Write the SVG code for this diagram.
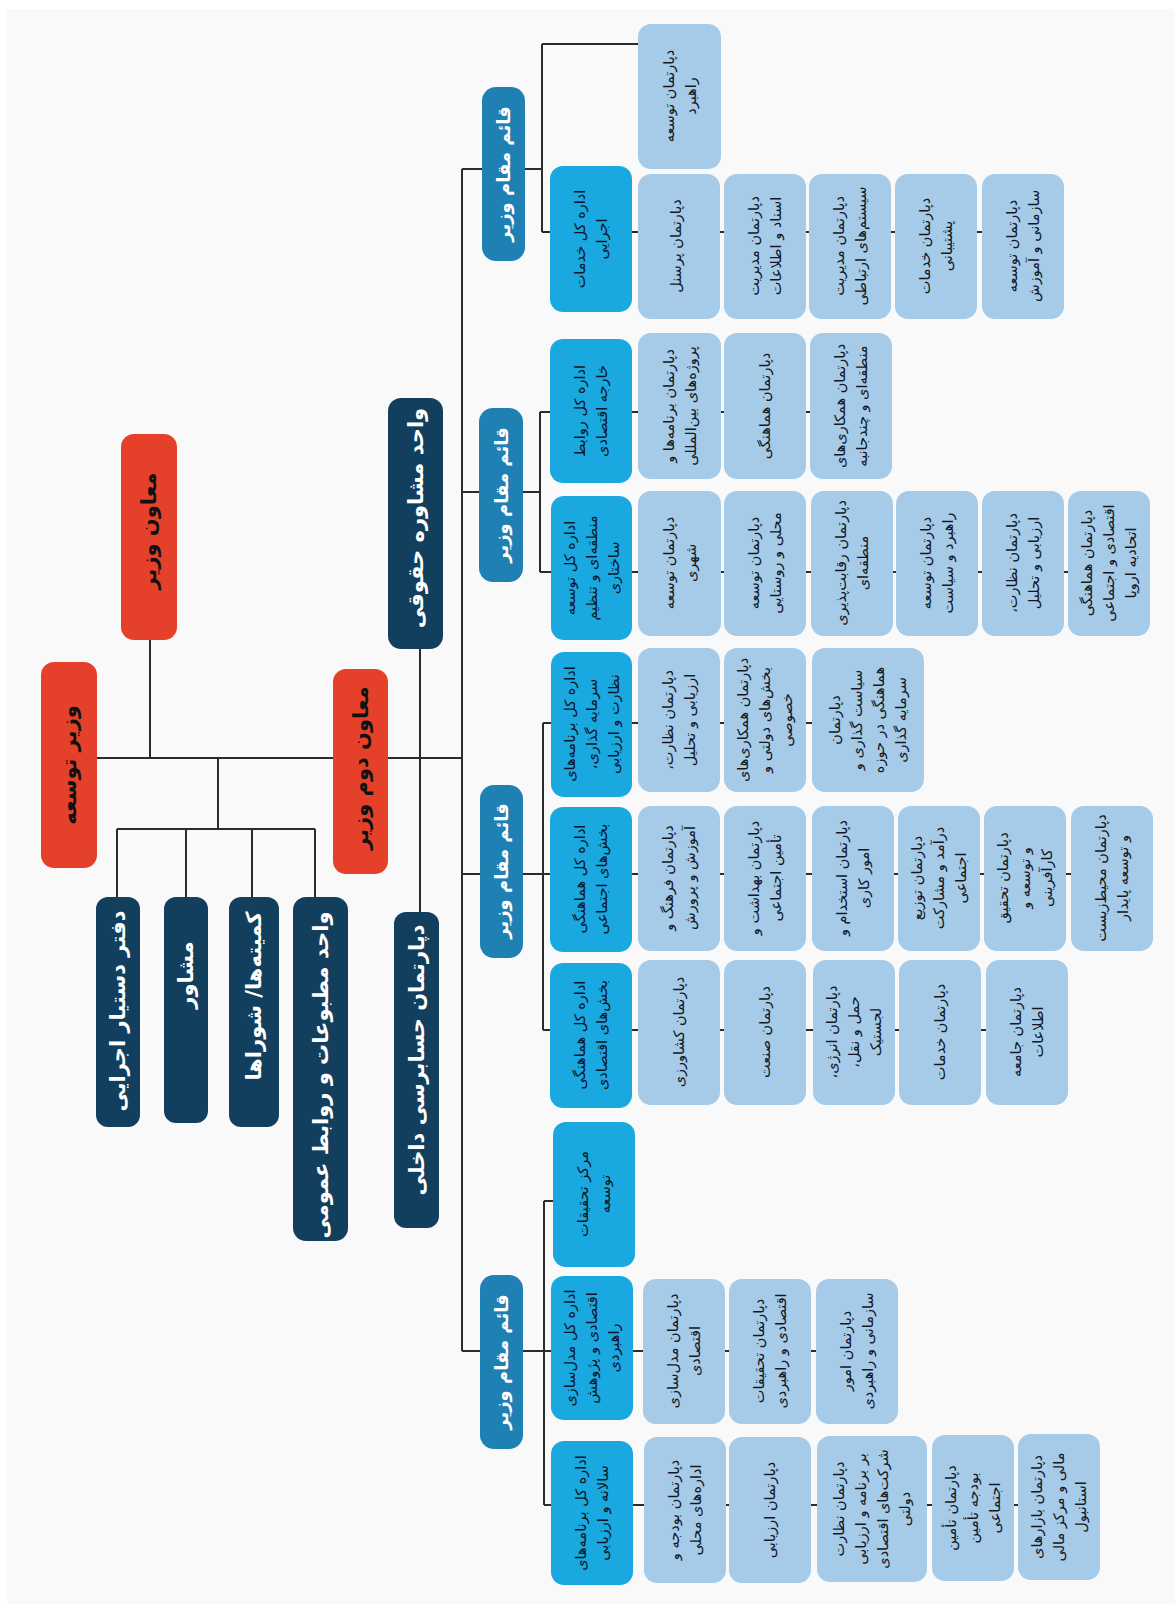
<svg xmlns="http://www.w3.org/2000/svg" width="1175" height="1604" viewBox="0 0 1175 1604">
<style>
text{font-family:"DejaVu Sans","Noto Sans",sans-serif;direction:rtl;unicode-bidi:embed;text-anchor:middle;dominant-baseline:central}
.red{fill:#e5412a}.dark{fill:#133f5e}.qm{fill:#1f80b3}.br{fill:#19a8e0}.lt{fill:#a5cbe9}
.tr{font-size:21px;font-weight:bold;fill:#111}
.td{font-size:21px;font-weight:bold;fill:#fff}
.tq{font-size:18px;font-weight:bold;fill:#fff}
.tb{font-size:14.5px;fill:#0b1626}
.tl{font-size:14.5px;fill:#141824}
.ln{stroke:#2b2b2b;stroke-width:2;fill:none}
</style>
<rect width="1175" height="1604" fill="#ffffff"/>
<rect x="7" y="9" width="1168" height="1595" fill="#f9f9f9"/>
<g id="connectors" class="ln">
<path d="M97 758H462"/>
<path d="M150 640V758"/>
<path d="M218 758V829"/>
<path d="M117 829H315M117 829V897M186 829V897M252 829V897M315 829V897"/>
<path d="M420 649V912"/>
<path d="M462 169V1351"/>
<path d="M462 169H542M542 44V232M542 44H638M542 232H1063"/>
<path d="M462 492H540M540 412V572M540 412H892M540 572H1150"/>
<path d="M462 874H543M543 723V1030M543 723H924M543 874H1153M543 1030H1067"/>
<path d="M462 1351H544M544 1201V1505M544 1201H553M544 1351H897M544 1505H1100"/>
</g>
<g id="n-vazir"><rect class="red" x="41" y="662" width="56" height="206" rx="13"/><text class="tr" transform="translate(69 765) rotate(-90)">وزیر توسعه</text></g>
<g id="n-moaven"><rect class="red" x="121" y="434" width="56" height="206" rx="13"/><text class="tr" transform="translate(149 531) rotate(-90)">معاون وزیر</text></g>
<g id="n-moaven2"><rect class="red" x="333" y="669" width="55" height="205" rx="13"/><text class="tr" transform="translate(360.5 768) rotate(-90)">معاون دوم وزیر</text></g>
<g id="n-daftar"><rect class="dark" x="96" y="897" width="44" height="230" rx="12"/><text class="td" transform="translate(118 1011) rotate(-90)">دفتر دستیار اجرایی</text></g>
<g id="n-moshaver"><rect class="dark" x="164" y="897" width="44" height="226" rx="12"/><text class="td" transform="translate(186 975) rotate(-90)">مشاور</text></g>
<g id="n-komite"><rect class="dark" x="229" y="897" width="50" height="230" rx="12"/><text class="td" transform="translate(254 996) rotate(-90)">کمیته&#8204;ها/ شوراها</text></g>
<g id="n-matbuat"><rect class="dark" x="293" y="897" width="55" height="344" rx="13"/><text class="td" transform="translate(320.5 1075) rotate(-90)">واحد مطبوعات و روابط عمومی</text></g>
<g id="n-hoghughi"><rect class="dark" x="388" y="398" width="55" height="251" rx="13"/><text class="td" transform="translate(415.5 518) rotate(-90)">واحد مشاوره حقوقی</text></g>
<g id="n-hesabresi"><rect class="dark" x="394" y="912" width="45" height="316" rx="12"/><text class="td" transform="translate(416.5 1060) rotate(-90)">دپارتمان حسابرسی داخلی</text></g>

<g id="n-qm1"><rect class="qm" x="482" y="87" width="43" height="174" rx="14"/><text class="tq" transform="translate(503.5 174) rotate(-90)">قائم مقام وزیر</text></g>
<g id="n-qm2"><rect class="qm" x="479" y="408" width="44" height="174" rx="14"/><text class="tq" transform="translate(501 495) rotate(-90)">قائم مقام وزیر</text></g>
<g id="n-qm3"><rect class="qm" x="480" y="785" width="43" height="173" rx="14"/><text class="tq" transform="translate(501.5 871) rotate(-90)">قائم مقام وزیر</text></g>
<g id="n-qm4"><rect class="qm" x="480" y="1275" width="43" height="174" rx="14"/><text class="tq" transform="translate(501.5 1362) rotate(-90)">قائم مقام وزیر</text></g>

<g id="n-b1"><rect class="br" x="550" y="166" width="82" height="146" rx="13"/><text class="tb" transform="translate(591 239) rotate(-90)"><tspan x="0" y="-11">اداره کل خدمات</tspan><tspan x="0" y="11">اجرایی</tspan></text></g>
<g id="n-b2"><rect class="br" x="550" y="339" width="82" height="144" rx="13"/><text class="tb" transform="translate(591 411) rotate(-90)"><tspan x="0" y="-11">اداره کل روابط</tspan><tspan x="0" y="11">خارجه اقتصادی</tspan></text></g>
<g id="n-b3"><rect class="br" x="551" y="496" width="81" height="144" rx="13"/><text class="tb" transform="translate(591.5 568) rotate(-90)"><tspan x="0" y="-22">اداره کل توسعه</tspan><tspan x="0" y="0">منطقه&#8204;ای و تنظیم</tspan><tspan x="0" y="22">ساختاری</tspan></text></g>
<g id="n-b4"><rect class="br" x="551" y="652" width="81" height="145" rx="13"/><text class="tb" transform="translate(591.5 724) rotate(-90)"><tspan x="0" y="-22">اداره کل برنامه&#8204;های</tspan><tspan x="0" y="0">سرمایه گذاری،</tspan><tspan x="0" y="22">نظارت و ارزیابی</tspan></text></g>
<g id="n-b5"><rect class="br" x="550" y="807" width="82" height="145" rx="13"/><text class="tb" transform="translate(591 879) rotate(-90)"><tspan x="0" y="-11">اداره کل هماهنگی</tspan><tspan x="0" y="11">بخش&#8204;های اجتماعی</tspan></text></g>
<g id="n-b6"><rect class="br" x="550" y="963" width="82" height="145" rx="13"/><text class="tb" transform="translate(591 1035) rotate(-90)"><tspan x="0" y="-11">اداره کل هماهنگی</tspan><tspan x="0" y="11">بخش&#8204;های اقتصادی</tspan></text></g>
<g id="n-b7"><rect class="br" x="553" y="1122" width="82" height="145" rx="13"/><text class="tb" transform="translate(594 1194) rotate(-90)"><tspan x="0" y="-11">مرکز تحقیقات</tspan><tspan x="0" y="11">توسعه</tspan></text></g>
<g id="n-b8"><rect class="br" x="551" y="1276" width="82" height="144" rx="13"/><text class="tb" transform="translate(592 1348) rotate(-90)"><tspan x="0" y="-22">اداره کل مدل&#8204;سازی</tspan><tspan x="0" y="0">اقتصادی و پژوهش</tspan><tspan x="0" y="22">راهبردی</tspan></text></g>
<g id="n-b9"><rect class="br" x="551" y="1441" width="82" height="144" rx="13"/><text class="tb" transform="translate(592 1513) rotate(-90)"><tspan x="0" y="-11">اداره کل برنامه&#8204;های</tspan><tspan x="0" y="11">سالانه و ارزیابی</tspan></text></g>

<g id="n-l0"><rect class="lt" x="638" y="24" width="83" height="145" rx="13"/><text class="tl" transform="translate(679.5 96) rotate(-90)"><tspan x="0" y="-11">دپارتمان توسعه</tspan><tspan x="0" y="11">راهبرد</tspan></text></g>
<g id="n-l1a"><rect class="lt" x="638" y="174" width="82" height="145" rx="13"/><text class="tl" transform="translate(676 246) rotate(-90)">دپارتمان پرسنل</text></g>
<g id="n-l1b"><rect class="lt" x="724" y="174" width="82" height="145" rx="13"/><text class="tl" transform="translate(765 246) rotate(-90)"><tspan x="0" y="-11">دپارتمان مدیریت</tspan><tspan x="0" y="11">اسناد و اطلاعات</tspan></text></g>
<g id="n-l1c"><rect class="lt" x="809" y="174" width="82" height="145" rx="13"/><text class="tl" transform="translate(850 246) rotate(-90)"><tspan x="0" y="-11">دپارتمان مدیریت</tspan><tspan x="0" y="11">سیستم&#8204;های ارتباطی</tspan></text></g>
<g id="n-l1d"><rect class="lt" x="895" y="174" width="82" height="145" rx="13"/><text class="tl" transform="translate(936 246) rotate(-90)"><tspan x="0" y="-11">دپارتمان خدمات</tspan><tspan x="0" y="11">پشتیبانی</tspan></text></g>
<g id="n-l1e"><rect class="lt" x="982" y="174" width="82" height="145" rx="13"/><text class="tl" transform="translate(1023 246) rotate(-90)"><tspan x="0" y="-11">دپارتمان توسعه</tspan><tspan x="0" y="11">سازمانی و آموزش</tspan></text></g>

<g id="n-l2a1"><rect class="lt" x="638" y="333" width="83" height="146" rx="13"/><text class="tl" transform="translate(679.5 406) rotate(-90)"><tspan x="0" y="-11">دپارتمان برنامه&#8204;ها و</tspan><tspan x="0" y="11">پروژه&#8204;های بین&#8204;المللی</tspan></text></g>
<g id="n-l2a2"><rect class="lt" x="724" y="333" width="82" height="146" rx="13"/><text class="tl" transform="translate(765 406) rotate(-90)">دپارتمان هماهنگی</text></g>
<g id="n-l2a3"><rect class="lt" x="810" y="333" width="82" height="146" rx="13"/><text class="tl" transform="translate(851 406) rotate(-90)"><tspan x="0" y="-11">دپارتمان همکاری&#8204;های</tspan><tspan x="0" y="11">منطقه&#8204;ای و چندجانبه</tspan></text></g>

<g id="n-l2b1"><rect class="lt" x="638" y="491" width="83" height="145" rx="13"/><text class="tl" transform="translate(679.5 563) rotate(-90)"><tspan x="0" y="-11">دپارتمان توسعه</tspan><tspan x="0" y="11">شهری</tspan></text></g>
<g id="n-l2b2"><rect class="lt" x="724" y="491" width="82" height="145" rx="13"/><text class="tl" transform="translate(765 563) rotate(-90)"><tspan x="0" y="-11">دپارتمان توسعه</tspan><tspan x="0" y="11">محلی و روستایی</tspan></text></g>
<g id="n-l2b3"><rect class="lt" x="811" y="491" width="82" height="145" rx="13"/><text class="tl" transform="translate(852 563) rotate(-90)"><tspan x="0" y="-11">دپارتمان رقابت&#8204;پذیری</tspan><tspan x="0" y="11">منطقه&#8204;ای</tspan></text></g>
<g id="n-l2b4"><rect class="lt" x="896" y="491" width="82" height="145" rx="13"/><text class="tl" transform="translate(937 563) rotate(-90)"><tspan x="0" y="-11">دپارتمان توسعه</tspan><tspan x="0" y="11">راهبرد و سیاست</tspan></text></g>
<g id="n-l2b5"><rect class="lt" x="982" y="491" width="82" height="145" rx="13"/><text class="tl" transform="translate(1023 563) rotate(-90)"><tspan x="0" y="-11">دپارتمان نظارت،</tspan><tspan x="0" y="11">ارزیابی و تحلیل</tspan></text></g>
<g id="n-l2b6"><rect class="lt" x="1068" y="491" width="82" height="145" rx="13"/><text class="tl" transform="translate(1109 563) rotate(-90)"><tspan x="0" y="-22">دپارتمان هماهنگی</tspan><tspan x="0" y="0">اقتصادی و اجتماعی</tspan><tspan x="0" y="22">اتحادیه اروپا</tspan></text></g>

<g id="n-l3a1"><rect class="lt" x="638" y="648" width="82" height="144" rx="13"/><text class="tl" transform="translate(679 720) rotate(-90)"><tspan x="0" y="-11">دپارتمان نظارت،</tspan><tspan x="0" y="11">ارزیابی و تحلیل</tspan></text></g>
<g id="n-l3a2"><rect class="lt" x="724" y="648" width="82" height="144" rx="13"/><text class="tl" transform="translate(765 720) rotate(-90)"><tspan x="0" y="-22">دپارتمان همکاری&#8204;های</tspan><tspan x="0" y="0">بخش&#8204;های دولتی و</tspan><tspan x="0" y="22">خصوصی</tspan></text></g>
<g id="n-l3a3"><rect class="lt" x="812" y="648" width="112" height="144" rx="13"/><text class="tl" transform="translate(868 720) rotate(-90)"><tspan x="0" y="-33">دپارتمان</tspan><tspan x="0" y="-11">سیاست گذاری و</tspan><tspan x="0" y="11">هماهنگی در حوزه</tspan><tspan x="0" y="33">سرمایه گذاری</tspan></text></g>

<g id="n-l3b1"><rect class="lt" x="638" y="806" width="82" height="145" rx="13"/><text class="tl" transform="translate(679 878) rotate(-90)"><tspan x="0" y="-11">دپارتمان فرهنگ و</tspan><tspan x="0" y="11">آموزش و پرورش</tspan></text></g>
<g id="n-l3b2"><rect class="lt" x="724" y="806" width="82" height="145" rx="13"/><text class="tl" transform="translate(765 878) rotate(-90)"><tspan x="0" y="-11">دپارتمان بهداشت و</tspan><tspan x="0" y="11">تأمین اجتماعی</tspan></text></g>
<g id="n-l3b3"><rect class="lt" x="812" y="806" width="82" height="145" rx="13"/><text class="tl" transform="translate(853 878) rotate(-90)"><tspan x="0" y="-11">دپارتمان استخدام و</tspan><tspan x="0" y="11">امور کاری</tspan></text></g>
<g id="n-l3b4"><rect class="lt" x="898" y="806" width="82" height="145" rx="13"/><text class="tl" transform="translate(939 878) rotate(-90)"><tspan x="0" y="-22">دپارتمان توزیع</tspan><tspan x="0" y="0">درآمد و مشارکت</tspan><tspan x="0" y="22">اجتماعی</tspan></text></g>
<g id="n-l3b5"><rect class="lt" x="984" y="806" width="82" height="145" rx="13"/><text class="tl" transform="translate(1025 878) rotate(-90)"><tspan x="0" y="-22">دپارتمان تحقیق</tspan><tspan x="0" y="0">و توسعه و</tspan><tspan x="0" y="22">کارآفرینی</tspan></text></g>
<g id="n-l3b6"><rect class="lt" x="1071" y="806" width="82" height="145" rx="13"/><text class="tl" transform="translate(1112 878) rotate(-90)"><tspan x="0" y="-11">دپارتمان محیط&#8204;زیست</tspan><tspan x="0" y="11">و توسعه پایدار</tspan></text></g>

<g id="n-l3c1"><rect class="lt" x="638" y="960" width="82" height="145" rx="13"/><text class="tl" transform="translate(679 1032) rotate(-90)">دپارتمان کشاورزی</text></g>
<g id="n-l3c2"><rect class="lt" x="724" y="960" width="82" height="145" rx="13"/><text class="tl" transform="translate(765 1032) rotate(-90)">دپارتمان صنعت</text></g>
<g id="n-l3c3"><rect class="lt" x="813" y="960" width="82" height="145" rx="13"/><text class="tl" transform="translate(854 1032) rotate(-90)"><tspan x="0" y="-22">دپارتمان انرژی،</tspan><tspan x="0" y="0">حمل و نقل،</tspan><tspan x="0" y="22">لجستیک</tspan></text></g>
<g id="n-l3c4"><rect class="lt" x="899" y="960" width="82" height="145" rx="13"/><text class="tl" transform="translate(940 1032) rotate(-90)">دپارتمان خدمات</text></g>
<g id="n-l3c5"><rect class="lt" x="986" y="960" width="82" height="145" rx="13"/><text class="tl" transform="translate(1027 1032) rotate(-90)"><tspan x="0" y="-11">دپارتمان جامعه</tspan><tspan x="0" y="11">اطلاعات</tspan></text></g>

<g id="n-l4b1"><rect class="lt" x="643" y="1279" width="82" height="145" rx="13"/><text class="tl" transform="translate(684 1351) rotate(-90)"><tspan x="0" y="-11">دپارتمان مدل&#8204;سازی</tspan><tspan x="0" y="11">اقتصادی</tspan></text></g>
<g id="n-l4b2"><rect class="lt" x="729" y="1279" width="82" height="145" rx="13"/><text class="tl" transform="translate(770 1351) rotate(-90)"><tspan x="0" y="-11">دپارتمان تحقیقات</tspan><tspan x="0" y="11">اقتصادی و راهبردی</tspan></text></g>
<g id="n-l4b3"><rect class="lt" x="816" y="1279" width="82" height="145" rx="13"/><text class="tl" transform="translate(857 1351) rotate(-90)"><tspan x="0" y="-11">دپارتمان امور</tspan><tspan x="0" y="11">سازمانی و راهبردی</tspan></text></g>

<g id="n-l4c1"><rect class="lt" x="644" y="1437" width="82" height="146" rx="13"/><text class="tl" transform="translate(685 1510) rotate(-90)"><tspan x="0" y="-11">دپارتمان بودجه و</tspan><tspan x="0" y="11">اداره&#8204;های محلی</tspan></text></g>
<g id="n-l4c2"><rect class="lt" x="729" y="1437" width="82" height="146" rx="13"/><text class="tl" transform="translate(770 1510) rotate(-90)">دپارتمان ارزیابی</text></g>
<g id="n-l4c3"><rect class="lt" x="817" y="1436" width="110" height="146" rx="13"/><text class="tl" transform="translate(872 1509) rotate(-90)"><tspan x="0" y="-33">دپارتمان نظارت</tspan><tspan x="0" y="-11">بر برنامه و ارزیابی</tspan><tspan x="0" y="11">شرکت&#8204;های اقتصادی</tspan><tspan x="0" y="33">دولتی</tspan></text></g>
<g id="n-l4c4"><rect class="lt" x="932" y="1435" width="82" height="146" rx="13"/><text class="tl" transform="translate(973 1508) rotate(-90)"><tspan x="0" y="-22">دپارتمان تأمین</tspan><tspan x="0" y="0">بودجه تأمین</tspan><tspan x="0" y="22">اجتماعی</tspan></text></g>
<g id="n-l4c5"><rect class="lt" x="1018" y="1434" width="82" height="146" rx="13"/><text class="tl" transform="translate(1059 1507) rotate(-90)"><tspan x="0" y="-22">دپارتمان بازارهای</tspan><tspan x="0" y="0">مالی و مرکز مالی</tspan><tspan x="0" y="22">استانبول</tspan></text></g>
</svg>
